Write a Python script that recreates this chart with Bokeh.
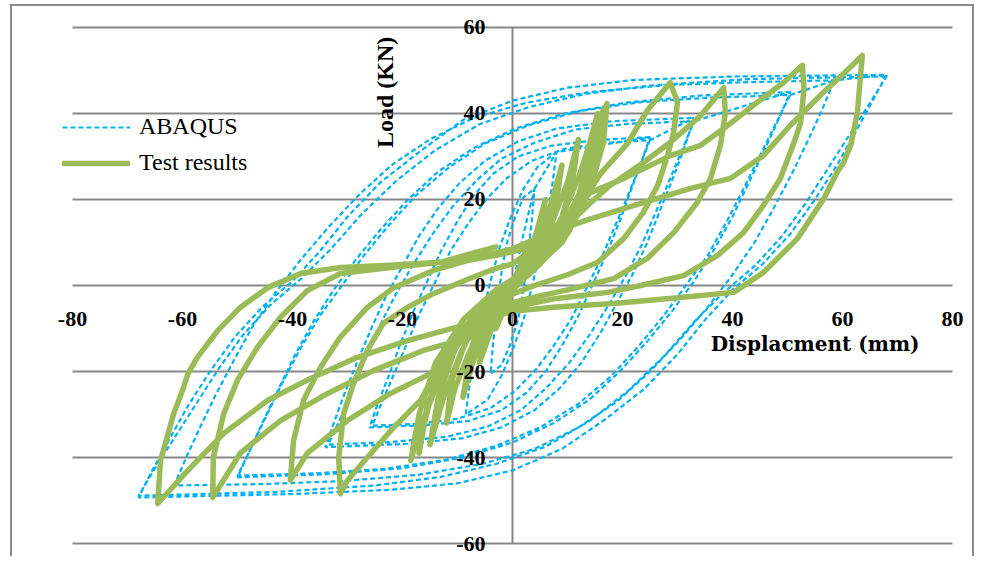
import math
from bokeh.plotting import figure
from bokeh.models import Range1d, FixedTicker, Label, Legend, LegendItem, LinearAxis, Span
from bokeh.embed import file_html
from bokeh.resources import INLINE

# ---------------- axis ticks ----------------
x_ticks = [-80, -60, -40, -20, 0, 20, 40, 60, 80]
x_tick_labels = ["-80", "-60", "-40", "-20", "0", "20", "40", "60", "80"]
y_ticks = [-60, -40, -20, 0, 20, 40, 60]
y_tick_labels = ["-60", "-40", "-20", "0", "20", "40", "60"]

# ---------------- ABAQUS (dashed blue) cycles ----------------
abaqus_c1_x = [0, 2, 4, 3.5, 2.8, 2, 1, -0.5, -2, -4, -3.5, -2.8, -2, -1, 0.5, 2, 4]
abaqus_c1_y = [0, 12, 22.5, 15, 7, -1, -8, -14, -18.5, -20.5, -13, -5, 3, 10, 16, 20.5, 22.5]

abaqus_c2_x = [8, 7.3, 6.3, 5, 3.6, 2, 0, -2, -4.5, -8.5, -7.8, -6.8, -5.5, -4, -2.3, -0.3, 1.8, 4.5, 8]
abaqus_c2_y = [31, 24, 16, 8, 0, -8, -15, -21, -26.5, -30, -23, -15, -7, 1, 9, 16, 22, 27.5, 31]

abaqus_c3_x = [25, 23.5, 21.5, 19.5, 17, 14.5, 12, 9, 6, 2.5, -2, -8, -16, -26,
               -24.5, -22.5, -20.5, -18, -15.5, -13, -10, -7, -3.5, 1, 7, 15, 25]
abaqus_c3_y = [34.5, 29, 22, 15, 7, 0, -7, -14, -20, -25, -29, -31.5, -32.5, -33,
               -27.5, -21, -14, -6, 1, 8, 15, 21, 26, 30, 32.5, 33.8, 34.5]

abaqus_c3b_x = [25, 23.2, 21, 18.7, 16.2, 13.5, 10.8, 7.5, 4.3, 0.5, -4, -10, -17.5, -25.5,
                -23.7, -21.5, -19.2, -16.7, -14, -11.3, -8, -4.8, -1, 3.5, 9.5, 17, 25]
abaqus_c3b_y = [33.8, 28, 21, 14, 6.5, -0.5, -7.5, -14, -19.5, -24.5, -28.5, -31, -32.2, -32.6,
                -27, -20.5, -13.5, -6, 1, 8, 14.5, 20, 25, 29, 31.8, 33.2, 33.8]

abaqus_c4_x = [33, 31.5, 29.5, 27, 24.5, 22, 19, 16, 12.5, 8.5, 4, -2, -9, -19, -34,
               -32.5, -30.5, -28, -25.5, -23, -20, -17, -13.5, -9.5, -5, 1, 8, 18, 33]
abaqus_c4_y = [39, 33, 26, 18, 10, 3, -4, -11, -18, -24, -29, -33, -35.5, -36.8, -37.6,
               -32, -25, -17, -9.5, -2.5, 4.5, 11.5, 18, 24, 29, 33.5, 36.5, 38.2, 39]

abaqus_c4b_x = [33, 31, 28.7, 26.2, 23.5, 20.7, 17.5, 14, 10.3, 6, 1.5, -4.5, -12, -22, -33.5,
                -31.5, -29.2, -26.7, -24, -21.2, -18, -14.5, -10.8, -6.5, -2, 4, 11.5, 21, 33]
abaqus_c4b_y = [38.2, 32, 25, 17.5, 9.5, 2.5, -4.5, -11.5, -18, -24, -29, -32.8, -35.2, -36.4, -37,
                -31.5, -24.5, -17, -9, -2, 5, 12, 18.5, 24.5, 29.5, 33.2, 36.3, 37.6, 38.2]

abaqus_c5_x = [50.5, 48.5, 46, 43, 40, 36.5, 33, 29, 24.5, 19.5, 14, 7.5, 0, -9, -20, -34, -50,
               -48, -45.5, -42.5, -39.5, -36, -32.5, -28.5, -24, -19, -13.5, -7, 0.5, 9.5, 20.5, 34.5, 50.5]
abaqus_c5_y = [45, 39, 32, 24, 16, 8, 1, -6, -13, -20, -26.5, -32, -36.5, -40, -42.5, -43.9, -44.6,
               -39, -32, -24, -16, -8, -1, 6, 13, 20, 26.5, 32, 36.5, 40, 42.5, 44.2, 45]

abaqus_c5b_x = [50.5, 48, 45.3, 42.2, 39, 35.5, 31.5, 27.5, 23, 18, 12, 5, -3, -12, -23, -36, -50,
                -47.8, -45, -42, -38.7, -35, -31, -27, -22.5, -17.5, -11.5, -5, 3, 12, 23, 36, 50.5]
abaqus_c5b_y = [44.3, 38, 31, 23, 15, 7, 0, -7, -14, -21, -27.5, -33, -37.3, -40.5, -42.6, -43.7, -44.2,
                -38.5, -31, -23, -15, -7, 0, 7, 14, 21, 27.5, 33, 37.3, 40.5, 42.6, 43.7, 44.3]

abaqus_c6_x = [58.5, 56.5, 54, 51, 47.5, 44, 40, 35.5, 30.5, 25, 19, 12, 4, -5.5, -17, -31, -46, -61.5,
               -59.5, -57, -54, -50.5, -47, -43, -38.5, -33.5, -28, -22, -15, -7, 2.5, 14, 28, 43, 58.5]
abaqus_c6_y = [47.7, 41.5, 34.5, 26.5, 18, 10, 2.5, -5, -12.5, -20, -27, -33, -38, -41.5, -44, -45.5, -46.2, -46.5,
               -40.5, -33.5, -25.5, -17, -9, -1.5, 6, 13.5, 21, 28, 34, 39, 42.5, 45, 46.6, 47.3, 47.7]

abaqus_c7_x = [68, 65.5, 62.5, 59, 55, 50.5, 45.5, 40, 35, 30, 24, 17, 9, 0, -10, -22, -40, -68,
               -65.5, -62.5, -59, -55, -50.5, -45.5, -40, -35, -30, -24, -17, -9, 0, 10, 22, 40, 68]
abaqus_c7_y = [49, 43, 36, 28, 20, 12, 5, -1, -8, -16, -24, -31, -38, -43, -46, -47.5, -48.5, -49.3,
               -43, -36, -28, -20, -12, -5, 1, 8, 16, 24, 31, 38.5, 43, 46, 47.8, 48.6, 49]

abaqus_c7b_x = [68, 65, 61.5, 57.5, 53.5, 49, 44, 38.5, 33, 27.5, 21, 14, 6, -3, -13, -25, -43, -68,
                -65, -61.5, -57.5, -53.5, -49, -44, -38.5, -33, -27.5, -21, -14, -6, 3, 13, 25, 43, 68]
abaqus_c7b_y = [48.6, 42.5, 35.5, 27.5, 19.5, 11.5, 4.5, -1.5, -8.5, -16.5, -24.5, -31.5, -37.5, -41.5, -44.5, -46.5, -48, -48.9,
                -42.5, -35.5, -27.5, -19.5, -11.5, -4.5, 1.5, 8.5, 16.5, 24.5, 31.5, 37.5, 41.5, 44.5, 46.5, 48, 48.6]

# ---------------- Test results (green) cycles ----------------
test_g1_x = [0, 1.5, 3, 2, 0.5, -1, -3, -2, -0.5, 1]
test_g1_y = [0, 5, 10, 5, 0, -4, -10, -5, 0, 3]
test_g2_x = [3, 4.5, 6, 5, 3.5, 1.5, -1, -3.5, -6, -5, -3.5, -1.5, 1.5]
test_g2_y = [7, 13, 20, 13, 7, 2, -3, -9, -18, -11, -5, -1, 3]
test_g3_x = [4.5, 7, 9, 8, 6, 3, 0, -3, -5.5, -7.5, -9, -8, -6, -3, 0, 3]
test_g3_y = [10, 19, 28, 20, 12, 5, 0, -5, -12, -19, -26, -18, -10, -4, 1, 5]
test_g4_x = [7, 10, 12, 11, 9, 6, 2, -2, -5, -8, -10.5, -12, -11, -8.5, -5, -1, 3]
test_g4_y = [14, 24, 34, 25, 16, 8, 2, -3, -7, -16, -24, -32, -22, -13, -5, 0, 4]
test_g5_x = [8, 12, 14, 15.5, 14.5, 12, 8, 3, -2, -6, -9.5, -12.5, -15, -13.5, -10.5, -6, -1, 4]
test_g5_y = [13, 25, 33, 40, 31, 21, 11, 3, -3, -7, -16, -26, -37, -26, -15, -6, 0, 4]
test_g6_x = [9, 13, 15.5, 17.2, 16.5, 14, 10, 5, 0, -5, -10, -14, -16.5, -18.5, -17, -14, -9, -3, 2]
test_g6_y = [12, 24, 33, 42.3, 33, 22, 12, 5, -1, -5, -13, -24, -32, -40.7, -30, -18, -8, -1, 3]
test_g7_x = [8, 12.5, 15, 16.5, 15.5, 13, 9, 4, -1, -6, -11, -14.5, -16, -17, -15.5, -12, -7, -2]
test_g7_y = [10, 20, 30, 41, 30, 19, 10, 4, -1, -6, -14, -24, -32, -39, -28, -16, -7, -1]
test_g8_x = [3, 6, 10, 13, 16, 20.9, 24.5, 28.7,
             30, 29.3, 28.2, 26.4, 23.8, 20.2, 15.5, 10, 4, 0, -5, -10.7, -13.5,
             -16.7, -21.6, -26.4, -30, -31.3,
             -31.6, -30.7, -28.9, -26.4, -23.5, -19.1, -14.4, -8, -3, 0]
test_g8_y = [3, 8, 14, 20, 26, 33, 40.7, 47.2,
             42.6, 35.6, 30.2, 23.3, 17, 10.9, 5.4, 2.5, 0, -2, -5, -12, -19,
             -26.7, -33, -40, -45.3, -48.4,
             -40, -29.8, -22.8, -15.1, -8.8, -5.1, -1.9, 1.5, 4, 5]
test_g9_x = [4, 10, 14, 17.8, 23.8, 28.7, 34.2, 38.4,
             38.7, 37.8, 36, 33.6, 29.3, 24.5, 18.4, 10, 3, -3, -8,
             -14.9, -22.2, -30, -37.3, -40.4,
             -39.8, -38, -34.9, -31.3, -26.4, -21.6, -14.4, -8.2, -3, 2]
test_g9_y = [8.8, 14, 19, 23.3, 28.6, 33.3, 39.5, 46,
             40.2, 32.6, 24.9, 19.3, 12.3, 6.3, 1.6, -1, -3, -5, -11,
             -20.5, -25.1, -31.4, -39, -45.3,
             -36, -26.7, -19, -12, -5.1, -0.5, 3.5, 5.8, 7, 8.5]
test_g10_x = [8, 14.2, 20.2, 28.7, 34.2, 38.4, 44.5, 49.3, 52.7,
              53, 52.4, 51, 48.7, 45.6, 42, 37.3, 31.1, 23.3, 17.3, 8, 0, -7.6,
              -16.2, -25.3, -33.6, -42.2, -49.5, -54.5,
              -54.4, -52.5, -50, -46.4, -42.2, -37.3, -31.3, -22.2, -12, -5]
test_g10_y = [14, 21.6, 24.9, 30.2, 32.6, 36.5, 42.6, 47.2, 51.2,
              45.8, 37.9, 32.6, 24.9, 18.6, 12.3, 7, 2.3, 0, -1.6, -3, -5, -12,
              -15.1, -19.8, -25.1, -31.4, -39, -49.3,
              -40, -29.8, -22, -14.4, -7.4, -1.2, 2.8, 4.2, 5.5, 7]
test_g11_x = [0, 6.4, 14.2, 23.8, 32.4, 39.6, 45.6, 50.5, 56.5, 60, 63.6,
              62.7, 61.5, 60.2, 59, 56.6, 51.8, 45.6, 40.2, 30.5, 18.4, 8, 0, -7.6,
              -19.1, -28.2, -37.3, -44.5, -52.5, -58.5, -64.5,
              -64, -61.6, -59.8, -59, -57.3, -53.6, -49.5, -44.5, -38.5, -31.3, -22.2, -13.1, -7.6, -3]
test_g11_y = [8.5, 12.1, 15.5, 19.3, 22.6, 24.9, 30.2, 37.2, 44.9, 49, 53.5,
              40.2, 32.6, 28.6, 26.3, 20.2, 10.9, 3, -1.6, -2.8, -4.2, -5, -6, -8.8,
              -12.8, -16.7, -22, -26.7, -34.4, -42.3, -50.7,
              -40.7, -29.8, -23.7, -20.5, -16.7, -10.5, -5.1, -0.5, 2.8, 4.2, 4.7, 5.4, 7.4, 9]

abaqus_x = (abaqus_c1_x + abaqus_c2_x + abaqus_c3_x + abaqus_c3b_x + abaqus_c4_x + abaqus_c4b_x
            + abaqus_c5_x + abaqus_c5b_x + abaqus_c6_x + abaqus_c7_x + abaqus_c7b_x)
abaqus_y = (abaqus_c1_y + abaqus_c2_y + abaqus_c3_y + abaqus_c3b_y + abaqus_c4_y + abaqus_c4b_y
            + abaqus_c5_y + abaqus_c5b_y + abaqus_c6_y + abaqus_c7_y + abaqus_c7b_y)
test_x = (test_g1_x + test_g2_x + test_g3_x + test_g4_x + test_g5_x + test_g6_x + test_g7_x
          + test_g8_x + test_g9_x + test_g10_x + test_g11_x)
test_y = (test_g1_y + test_g2_y + test_g3_y + test_g4_y + test_g5_y + test_g6_y + test_g7_y
          + test_g8_y + test_g9_y + test_g10_y + test_g11_y)

GRID = "#878787"
BORDER = "#8C8C8C"
BLUE = "#00B0F0"
GREEN = "#9BBB59"
SERIF = "Liberation Serif"

# frame spans pixels 9..974 horizontally and 3..556 vertically
p = figure(width=974, height=556, output_backend="svg", toolbar_location=None,
           x_range=Range1d(-91.4545, 84.0), y_range=Range1d(-63.023, 65.581),
           x_axis_location=None, y_axis_location=None,
           min_border_left=9, min_border_right=0, min_border_top=3, min_border_bottom=0)
p.grid.visible = False
p.outline_line_color = None
p.background_fill_color = "white"
p.border_fill_color = "white"

# chart-area border (left, top, right; bottom lies outside the view)
p.add_layout(Span(location=-91.18, dimension="height", line_color=BORDER, line_width=2))
p.add_layout(Span(location=83.73, dimension="height", line_color=BORDER, line_width=2))
p.add_layout(Span(location=65.23, dimension="width", line_color=BORDER, line_width=2))

# horizontal gridlines and vertical axis line
p.segment(x0=x_ticks[0], x1=x_ticks[-1], y0=y_ticks, y1=y_ticks,
          line_color=GRID, line_width=2, level="underlay")
p.segment(x0=0, x1=0, y0=y_ticks[0], y1=y_ticks[-1],
          line_color=GRID, line_width=2, level="underlay")

blue = p.line(abaqus_x, abaqus_y, line_color=BLUE, line_width=2.2, line_dash="5 3")
green = p.line(test_x, test_y, line_color=GREEN, line_width=5.5,
               line_join="round", line_cap="round")

xaxis = LinearAxis(fixed_location=0, ticker=FixedTicker(ticks=x_ticks),
                   major_label_overrides=dict(zip(x_ticks, x_tick_labels)))
yaxis = LinearAxis(fixed_location=0, ticker=FixedTicker(ticks=y_ticks),
                   major_label_overrides=dict(zip(y_ticks, y_tick_labels)))
for ax in (xaxis, yaxis):
    ax.axis_line_color = None
    ax.major_tick_line_color = None
    ax.minor_tick_line_color = None
    ax.major_label_text_font = SERIF
    ax.major_label_text_font_style = "bold"
    ax.major_label_text_font_size = "22px"
    ax.major_label_text_color = "black"
    ax.major_label_standoff = 21
p.add_layout(xaxis, "below")
p.add_layout(yaxis, "left")

p.add_layout(Label(x=74, y=-13.5, text="Displacment (mm)", text_align="right",
                   text_baseline="middle", text_font="DejaVu Serif",
                   text_font_style="bold", text_font_size="20px", text_color="black"))
p.add_layout(Label(x=-23.1, y=44.9, text="Load (KN)", angle=math.pi / 2,
                   text_align="center", text_baseline="middle", text_font=SERIF,
                   text_font_style="bold", text_font_size="24px", text_color="black"))

legend = Legend(items=[LegendItem(label="ABAQUS", renderers=[blue]),
                       LegendItem(label="Test results", renderers=[green])],
                location=(53, 380), orientation="vertical",
                glyph_width=68, glyph_height=26, label_height=26, label_standoff=9,
                spacing=9, padding=0, margin=0,
                label_text_font=SERIF, label_text_font_size="24px", label_text_color="black",
                border_line_alpha=0, background_fill_alpha=0)
p.add_layout(legend)

open("out.html", "w").write(file_html(p, INLINE))
